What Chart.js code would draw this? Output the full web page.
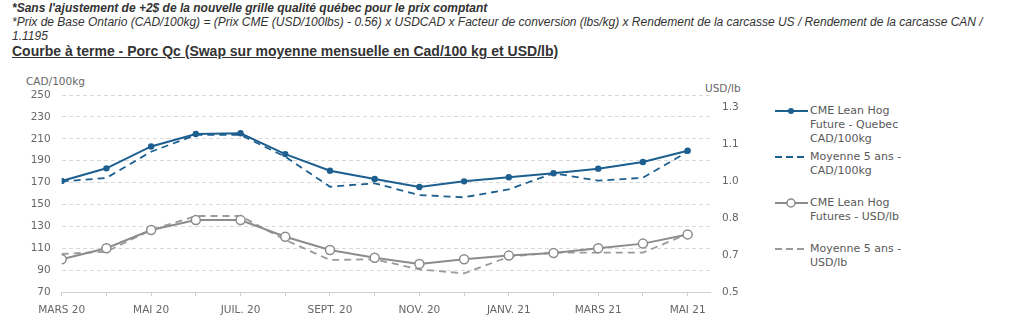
<!DOCTYPE html>
<html>
<head>
<meta charset="utf-8">
<script src="https://cdn.jsdelivr.net/npm/chart.js@4"></script>
<style>
  body { margin: 0; background: #fff; width: 1024px; height: 326px; overflow: hidden; position: relative; }
  .note { position: absolute; left: 12px; font-family: "Liberation Sans", Arial, sans-serif; color: #333; white-space: nowrap; }
  .n1 { top: 1px; font-size: 12px; font-weight: bold; font-style: italic; }
  .n2 { top: 15px; font-size: 12px; font-style: italic; }
  .n3 { top: 29px; font-size: 12px; font-style: italic; }
  .titre { top: 43px; font-size: 14px; font-weight: bold; text-decoration: underline; }
  .C_chart { position: absolute; left: 0; top: 60px; width: 760px; height: 266px; }
  .axisTitle { position: absolute; font-family: "DejaVu Sans", sans-serif; font-size: 10.5px; color: #666; }
  .C_legend { position: absolute; left: 775px; top: 104px; font-family: "DejaVu Sans", sans-serif; font-size: 11px; color: #595959; }
  .item { position: absolute; left: 0; width: 220px; }
  .sample { position: absolute; left: 0; top: 0; }
  .txt { position: absolute; left: 35px; top: 0; line-height: 14.2px; white-space: nowrap; }
</style>
</head>
<body>
<div class="note n1">*Sans l'ajustement de +2$ de la nouvelle grille qualité québec pour le prix comptant</div>
<div class="note n2">*Prix de Base Ontario (CAD/100kg) = (Prix CME (USD/100lbs) - 0.56) x USDCAD x Facteur de conversion (lbs/kg) x Rendement de la carcasse US / Rendement de la carcasse CAN /</div>
<div class="note n3">1.1195</div>
<div class="note titre">Courbe à terme - Porc Qc (Swap sur moyenne mensuelle en Cad/100 kg et USD/lb)</div>

<div class="axisTitle" style="left:26px;top:75px;">CAD/100kg</div>
<div class="axisTitle" style="left:705px;top:82px;">USD/lb</div>

<div class="C_chart"><canvas id="myChart" width="760" height="266"></canvas></div>
<div class="C_legend"></div>

<script>
// mois (un libellé sur deux affiché)
const monthLabels = ['MARS 20', '', 'MAI 20', '', 'JUIL. 20', '', 'SEPT. 20', '', 'NOV. 20', '', 'JANV. 21', '', 'MARS 21', '', 'MAI 21']

// CAD/100kg
const cmeQuebec = [171.5, 183, 203, 214.4, 215, 196, 180.8, 173.3, 166, 171.1, 174.8, 178.5, 182.7, 188.8, 199.1]
const moyenneCad = [171, 174.2, 198.2, 213.5, 213.5, 193.6, 166.2, 169.3, 158.6, 156.5, 163.8, 178.5, 171.7, 174.4, 198.2]

// USD/lb
const cmeUsd = [0.642, 0.690, 0.769, 0.812, 0.812, 0.740, 0.682, 0.649, 0.622, 0.642, 0.658, 0.669, 0.690, 0.710, 0.750]
const moyenneUsd = [0.665, 0.675, 0.769, 0.830, 0.830, 0.726, 0.639, 0.642, 0.598, 0.581, 0.653, 0.671, 0.671, 0.671, 0.752]

// ticks axe de droite (affichés arrondis)
const usdTicks = [0.5, 0.66, 0.82, 0.98, 1.14, 1.3]

const blue = '#1d5f8f'
const grey = '#8c8c8c'
const greyDash = '#9a9a9a'

const toPoints = arr => arr.map((v, i) => ({x: i, y: v}))

const legendItems = [
    {lines: ['CME Lean Hog', 'Future - Quebec', 'CAD/100kg'], color: blue, dash: false, marker: 'dot'},
    {lines: ['Moyenne 5 ans -', 'CAD/100kg'], color: blue, dash: true},
    {lines: ['CME Lean Hog', 'Futures - USD/lb'], color: grey, dash: false, marker: 'circle'},
    {lines: ['Moyenne 5 ans -', 'USD/lb'], color: greyDash, dash: true},
]

const C_legend = document.querySelector('.C_legend')
legendItems.forEach((item, k) => {
    const div = document.createElement('div')
    div.className = 'item'
    div.style.top = (k * 46) + 'px'
    const c = document.createElement('canvas')
    c.width = 34; c.height = 14
    c.className = 'sample'
    const g = c.getContext('2d')
    g.strokeStyle = item.color
    g.lineWidth = 2
    if (item.dash) g.setLineDash([7, 4])
    g.beginPath(); g.moveTo(0, 7); g.lineTo(33, 7); g.stroke()
    g.setLineDash([])
    if (item.marker == 'dot') {
        g.fillStyle = item.color
        g.beginPath(); g.arc(16, 7, 3, 0, Math.PI * 2); g.fill()
    } else if (item.marker == 'circle') {
        g.fillStyle = '#fff'; g.lineWidth = 1.5
        g.beginPath(); g.arc(16, 7, 4, 0, Math.PI * 2); g.fill(); g.stroke()
    }
    const t = document.createElement('div')
    t.className = 'txt'
    t.innerHTML = item.lines.join('<br>')
    div.appendChild(c)
    div.appendChild(t)
    C_legend.appendChild(div)
})

const font = {family: 'DejaVu Sans', size: 10.5}

var myChart = new Chart(document.getElementById('myChart'), {
    type: 'line',
    data: {
        datasets: [
            {label: 'CME Lean Hog Future - Quebec CAD/100kg', data: toPoints(cmeQuebec), yAxisID: 'y',
             borderColor: blue, backgroundColor: blue, borderWidth: 2, pointRadius: 3.2, pointBorderWidth: 0, tension: 0},
            {label: 'Moyenne 5 ans - CAD/100kg', data: toPoints(moyenneCad), yAxisID: 'y',
             borderColor: blue, borderWidth: 1.8, borderDash: [7, 5], pointRadius: 0, tension: 0},
            {label: 'CME Lean Hog Futures - USD/lb', data: toPoints(cmeUsd), yAxisID: 'y1',
             borderColor: grey, backgroundColor: '#fff', borderWidth: 2, pointRadius: 4.5, pointBorderWidth: 1.5, tension: 0},
            {label: 'Moyenne 5 ans - USD/lb', data: toPoints(moyenneUsd), yAxisID: 'y1',
             borderColor: greyDash, borderWidth: 1.8, borderDash: [7, 5], pointRadius: 0, tension: 0},
        ]
    },
    options: {
        responsive: false,
        animation: false,
        layout: {padding: {top: 35, left: 0, right: 0, bottom: 0}},
        plugins: {legend: {display: false}, tooltip: {enabled: false}},
        scales: {
            x: {
                type: 'linear', min: 0, max: 14.5,
                afterBuildTicks: scale => { scale.ticks = monthLabels.map((l, i) => ({value: i})) },
                afterFit: scale => { scale.height = 34 },
                grid: {drawOnChartArea: false, drawTicks: true, tickLength: 4, color: '#d0d0d0'},
                border: {color: '#d0d0d0'},
                ticks: {autoSkip: false, maxRotation: 0, padding: 8, color: '#666', font,
                        callback: (v) => monthLabels[v]}
            },
            y: {
                position: 'left', min: 70, max: 250,
                ticks: {stepSize: 20, padding: 11, color: '#666', font},
                afterFit: scale => { scale.width = 61.7 },
                grid: {drawTicks: false, color: ctx => ctx.tick && ctx.tick.value == 70 ? 'rgba(0,0,0,0)' : '#d9d9d9'},
                border: {display: false, dash: [4, 3]}
            },
            y1: {
                position: 'right', min: 0.5, max: 0.5 + 0.8 * 197 / 184.3,
                afterBuildTicks: scale => { scale.ticks = usdTicks.map(v => ({value: v})) },
                afterFit: scale => { scale.width = 50 },
                grid: {display: false, drawTicks: false},
                border: {display: false},
                ticks: {padding: 12, color: '#666', font, callback: v => v.toFixed(1)}
            }
        }
    }
});
</script>
</body>
</html>
